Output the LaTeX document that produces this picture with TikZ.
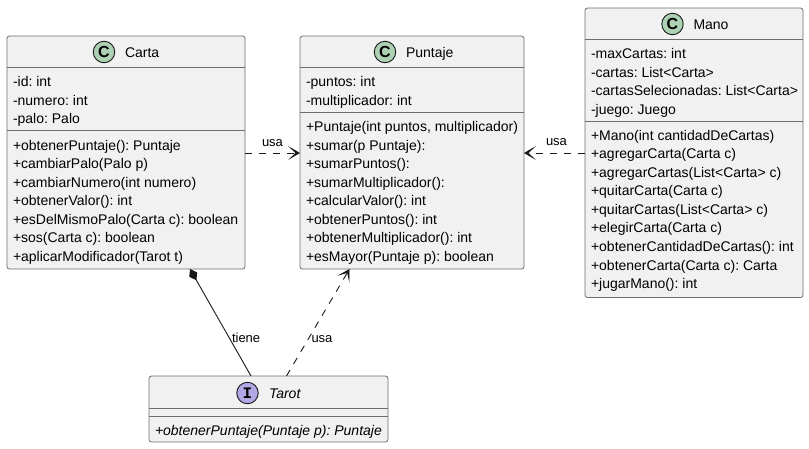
\documentclass[tikz,border=0pt]{standalone}
\usepackage{fontspec}
\setmainfont{Liberation Sans}
\frenchspacing
\usetikzlibrary{arrows.meta,calc}
\definecolor{boxfill}{HTML}{F1F1F1}
\definecolor{boxline}{HTML}{6E6E6E}
\definecolor{cfill}{HTML}{ADD1B2}
\definecolor{ifill}{HTML}{B4A7E5}
\definecolor{ink}{HTML}{181818}
\tikzset{
  umlbox/.style={draw=boxline,fill=boxfill,line width=0.8pt,rounded corners=2.5pt,inner sep=0pt,outer sep=0pt,anchor=north west},
  sepline/.style={draw=boxline,line width=0.8pt},
  member/.style={anchor=base west,inner sep=0pt,outer sep=0pt,font=\fontsize{14}{14}\selectfont,text=black},
  imember/.style={member,font=\fontsize{14}{14}\selectfont\itshape},
  title/.style={member,font=\fontsize{14}{14}\selectfont},
  ititle/.style={member,font=\fontsize{14}{14}\selectfont\itshape},
  rel/.style={member,font=\fontsize{13}{13}\selectfont},
  icon/.style={circle,draw=ink,line width=0.9pt,minimum size=21.5pt,inner sep=0pt,outer sep=0pt,font=\fontsize{16}{16}\selectfont\bfseries},
  conn/.style={draw=ink,line width=0.9pt},
  usearrow/.style={conn,dash pattern=on 7pt off 7pt,-{Stealth[length=12pt,width=14pt,inset=7.5pt]}},
  comparrow/.style={conn,{Diamond[length=13pt,width=9pt,fill=ink]}-}
}
\begin{document}
\begin{tikzpicture}[x=1pt,y=-1pt]
\useasboundingbox (0,0) rectangle (809,448);
% Carta
\node[umlbox,minimum width=238pt,minimum height=233pt] (carta) at (7,36) {};
\draw[sepline] (carta.west |- 0,67.5) -- (carta.east |- 0,67.5);
\draw[sepline] (carta.west |- 0,130) -- (carta.east |- 0,130);
\node[icon,fill=cfill] (cartaicon) at (104,52) {C};
\node[title] (cartatitle) at (125,57) {Carta};
\foreach \n/\y/\t in {a/86/{-id: int},b/105/{-numero: int},c/123/{-palo: Palo},
  d/150/{+obtenerPuntaje(): Puntaje},e/168.5/{+cambiarPalo(Palo p)},f/187/{+cambiarNumero(int numero)},
  g/205.5/{+obtenerValor(): int},h/224/{+esDelMismoPalo(Carta c): boolean},i/242.5/{+sos(Carta c): boolean},
  j/261/{+aplicarModificador(Tarot t)}}
  \node[member] (carta\n) at (13,\y) {\t};
% Puntaje
\node[umlbox,minimum width=224pt,minimum height=233pt] (puntaje) at (300,36) {};
\draw[sepline] (puntaje.west |- 0,67.5) -- (puntaje.east |- 0,67.5);
\draw[sepline] (puntaje.west |- 0,112) -- (puntaje.east |- 0,112);
\node[icon,fill=cfill] (puntajeicon) at (385,52) {C};
\node[title] (puntajetitle) at (406,57) {Puntaje};
\foreach \n/\y/\t in {a/86.5/{-puntos: int},b/105/{-multiplicador: int},
  c/131/{+Puntaje(int puntos, multiplicador)},d/150/{+sumar(p Puntaje):},e/168.5/{+sumarPuntos():},
  f/187/{+sumarMultiplicador():},g/205.5/{+calcularValor(): int},h/224/{+obtenerPuntos(): int},
  i/242.5/{+obtenerMultiplicador(): int},j/261/{+esMayor(Puntaje p): boolean}}
  \node[member] (puntaje\n) at (306,\y) {\t};
% Mano
\node[umlbox,minimum width=218pt,minimum height=289.5pt] (mano) at (585,8) {};
\draw[sepline] (mano.west |- 0,39.5) -- (mano.east |- 0,39.5);
\draw[sepline] (mano.west |- 0,121) -- (mano.east |- 0,121);
\node[icon,fill=cfill] (manoicon) at (672.5,24) {C};
\node[title] (manotitle) at (693.5,29) {Mano};
\foreach \n/\y/\t in {a/58/{-maxCartas: int},b/77/{-cartas: List<Carta>},c/95.5/{-cartasSelecionadas: List<Carta>},
  d/114/{-juego: Juego},e/140/{+Mano(int cantidadDeCartas)},f/158.5/{+agregarCarta(Carta c)},
  g/177/{+agregarCartas(List<Carta> c)},h/195.5/{+quitarCarta(Carta c)},i/214/{+quitarCartas(List<Carta> c)},
  j/232.5/{+elegirCarta(Carta c)},k/251/{+obtenerCantidadDeCartas(): int},l/270/{+obtenerCarta(Carta c): Carta},
  m/288.5/{+jugarMano(): int}}
  \node[member] (mano\n) at (591,\y) {\t};
% Tarot
\node[umlbox,minimum width=239pt,minimum height=66pt] (tarot) at (149,376) {};
\draw[sepline] (tarot.west |- 0,408.5) -- (tarot.east |- 0,408.5);
\draw[sepline] (tarot.west |- 0,416) -- (tarot.east |- 0,416);
\node[icon,fill=ifill] (taroticon) at (247.5,393) {\fontspec{Liberation Mono}\bfseries I};
\node[ititle] (tarottitle) at (269,398) {Tarot};
\node[imember] (tarotm) at (155,435) {+obtenerPuntaje(Puntaje p): Puntaje};
% Connectors
\coordinate (cartaout) at (carta.east |- 0,153);
\coordinate (puntajein) at (puntaje.west |- 0,153);
\coordinate (puntajeout) at (puntaje.east |- 0,153);
\coordinate (manoout) at (mano.west |- 0,153);
\coordinate (compA) at (190,269);
\coordinate (compB) at (251,376);
\coordinate (usaA) at (286.5,376);
\coordinate (usaB) at (349.5,269);
\draw[usearrow] (cartaout) -- (puntajein);
\draw[usearrow] (manoout) -- (puntajeout);
\draw[comparrow] (compA) -- (compB);
\draw[usearrow] (usaA) -- (usaB);
\node[rel] (lblusa1) at (262,146) {usa};
\node[rel] (lblusa2) at (546,145.5) {usa};
\node[rel] (lbltiene) at (232,342) {tiene};
\node[rel] (lblusa3) at (311.5,342) {usa};
\end{tikzpicture}
\end{document}
